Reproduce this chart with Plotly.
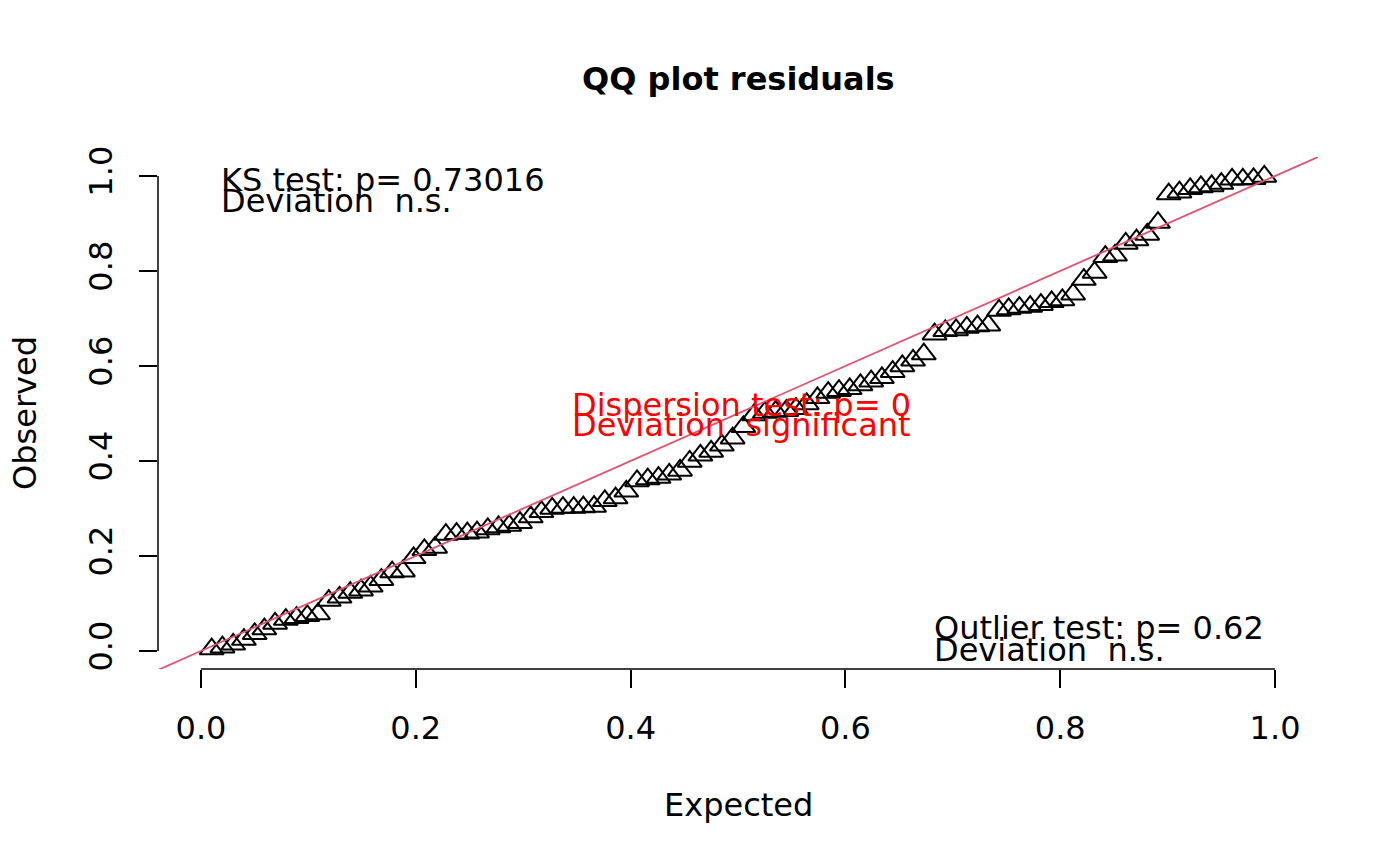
import plotly.graph_objects as go

# expected uniform quantiles i/(n+1), n = 100
expected = [
    0.010, 0.020, 0.030, 0.040, 0.050, 0.059, 0.069, 0.079, 0.089, 0.099,
    0.109, 0.119, 0.129, 0.139, 0.149, 0.158, 0.168, 0.178, 0.188, 0.198,
    0.208, 0.218, 0.228, 0.238, 0.248, 0.257, 0.267, 0.277, 0.287, 0.297,
    0.307, 0.317, 0.327, 0.337, 0.347, 0.356, 0.366, 0.376, 0.386, 0.396,
    0.406, 0.416, 0.426, 0.436, 0.446, 0.455, 0.465, 0.475, 0.485, 0.495,
    0.505, 0.515, 0.525, 0.535, 0.545, 0.554, 0.564, 0.574, 0.584, 0.594,
    0.604, 0.614, 0.624, 0.634, 0.644, 0.653, 0.663, 0.673, 0.683, 0.693,
    0.703, 0.713, 0.723, 0.733, 0.743, 0.752, 0.762, 0.772, 0.782, 0.792,
    0.802, 0.812, 0.822, 0.832, 0.842, 0.851, 0.861, 0.871, 0.881, 0.891,
    0.901, 0.911, 0.921, 0.931, 0.941, 0.950, 0.960, 0.970, 0.980, 0.990,
]

# sorted scaled residuals
observed = [
    0.004, 0.008, 0.014, 0.024, 0.036, 0.046, 0.058, 0.066, 0.070, 0.074,
    0.078, 0.106, 0.113, 0.123, 0.128, 0.136, 0.150, 0.166, 0.168, 0.196,
    0.213, 0.218, 0.245, 0.247, 0.248, 0.250, 0.257, 0.261, 0.264, 0.270,
    0.282, 0.293, 0.300, 0.302, 0.302, 0.303, 0.304, 0.316, 0.322, 0.336,
    0.358, 0.362, 0.365, 0.372, 0.380, 0.399, 0.412, 0.420, 0.433, 0.448,
    0.472, 0.497, 0.502, 0.504, 0.506, 0.510, 0.520, 0.533, 0.544, 0.548,
    0.552, 0.560, 0.568, 0.575, 0.588, 0.600, 0.612, 0.625, 0.667, 0.674,
    0.676, 0.681, 0.684, 0.686, 0.717, 0.720, 0.723, 0.725, 0.729, 0.735,
    0.739, 0.751, 0.782, 0.797, 0.830, 0.833, 0.858, 0.865, 0.877, 0.902,
    0.962, 0.966, 0.973, 0.977, 0.979, 0.984, 0.993, 0.993, 0.994, 0.999,
]

tick_vals = [0.0, 0.2, 0.4, 0.6, 0.8, 1.0]
tick_text = ["0.0", "0.2", "0.4", "0.6", "0.8", "1.0"]

ks_text = ["KS test: p= 0.73016", "Deviation  n.s."]
disp_text = ["Dispersion test: p= 0", "Deviation  significant"]
outl_text = ["Outlier test: p= 0.62", "Deviation  n.s."]

FONT = "DejaVu Sans"
FS = 32
xr = [-0.04, 1.04]
yr = [-0.038, 1.04]

fig = go.Figure()

fig.add_trace(go.Scatter(
    x=expected, y=observed, mode="markers",
    marker=dict(symbol="triangle-up-open", size=21, color="black",
                line=dict(width=2, color="black")),
    cliponaxis=False, showlegend=False, hoverinfo="x+y",
))

# 1:1 reference line
fig.add_trace(go.Scatter(
    x=xr, y=xr, mode="lines",
    line=dict(color="#DF536B", width=1.8),
    showlegend=False, hoverinfo="skip",
))

# R-style axis lines, only from first to last tick
fig.add_shape(type="line", xref="x", yref="paper", x0=0, x1=1, y0=0, y1=0,
              line=dict(color="black", width=1.5))
fig.add_shape(type="line", xref="paper", yref="y", x0=0, x1=0, y0=0, y1=1,
              line=dict(color="black", width=1.5))

def add_text_block(lines, x, ys, color):
    for txt, y in zip(lines, ys):
        fig.add_annotation(x=x, y=y, xref="x", yref="y", text=txt,
                           showarrow=False, xanchor="left", yanchor="middle",
                           font=dict(family=FONT, size=FS, color=color))

add_text_block(ks_text, 0.0168, [0.9916, 0.947], "black")
add_text_block(disp_text, 0.3436, [0.518, 0.476], "#FF0000")
add_text_block(outl_text, 0.6806, [0.0484, 0.002], "black")

fig.add_annotation(x=0.5, y=1.152, xref="paper", yref="paper",
                   text="<b>QQ plot residuals</b>", showarrow=False,
                   xanchor="center", yanchor="middle",
                   font=dict(family=FONT, size=FS, color="black"))
fig.add_annotation(x=0.5, y=-0.2656, xref="paper", yref="paper",
                   text="Expected", showarrow=False,
                   xanchor="center", yanchor="middle",
                   font=dict(family=FONT, size=FS, color="black"))
fig.add_annotation(x=-0.1147, y=0.5, xref="paper", yref="paper",
                   text="Observed", showarrow=False, textangle=-90,
                   xanchor="center", yanchor="middle",
                   font=dict(family=FONT, size=FS, color="black"))

fig.update_xaxes(range=xr, showgrid=False, zeroline=False, showline=False,
                 ticks="outside", ticklen=18, tickwidth=1.5, tickcolor="black",
                 tickvals=tick_vals, ticktext=tick_text, ticklabelstandoff=13,
                 tickfont=dict(family=FONT, size=FS, color="black"))
fig.update_yaxes(range=yr, showgrid=False, zeroline=False, showline=False,
                 ticks="outside", ticklen=18, tickwidth=1.5, tickcolor="black",
                 tickvals=tick_vals, ticktext=tick_text, tickangle=-90,
                 ticklabelstandoff=14,
                 tickfont=dict(family=FONT, size=FS, color="black"))

# page body adds an 8px offset, so margins are shifted to compensate
fig.update_layout(
    width=1400, height=866,
    margin=dict(l=150, r=90, t=149, b=205),
    paper_bgcolor="white", plot_bgcolor="white",
    font=dict(family=FONT, color="black"),
)

fig.write_html("out.html")
